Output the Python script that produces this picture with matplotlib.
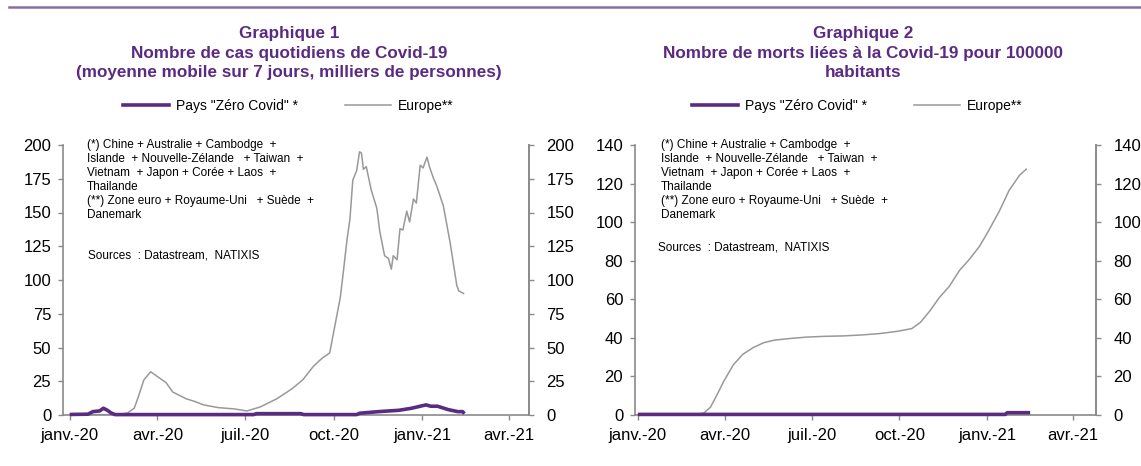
import pandas as pd
import matplotlib
matplotlib.use("Agg")
from matplotlib import pyplot as plt
from matplotlib.lines import Line2D

plt.rcParams['font.family'] = ['Liberation Sans', 'DejaVu Sans']

# --- data ---
# Graphique 1 : cas quotidiens (moyenne mobile 7 j, milliers)
cases_eu_dates = ["2020-01-01", "2020-02-20", "2020-03-01", "2020-03-08", "2020-03-12",
                  "2020-03-18", "2020-03-25", "2020-04-02", "2020-04-10", "2020-04-17",
                  "2020-05-01", "2020-05-10", "2020-05-19", "2020-06-03", "2020-06-20",
                  "2020-07-03", "2020-07-17", "2020-08-03", "2020-08-18", "2020-08-30",
                  "2020-09-10", "2020-09-19", "2020-09-27", "2020-10-01", "2020-10-08",
                  "2020-10-11", "2020-10-15", "2020-10-18", "2020-10-21", "2020-10-25",
                  "2020-10-28", "2020-10-30", "2020-11-01", "2020-11-04", "2020-11-09",
                  "2020-11-15", "2020-11-18", "2020-11-23", "2020-11-27", "2020-11-30",
                  "2020-12-02", "2020-12-06", "2020-12-09", "2020-12-12", "2020-12-16",
                  "2020-12-19", "2020-12-23", "2020-12-26", "2020-12-30", "2021-01-02",
                  "2021-01-06", "2021-01-09", "2021-01-13", "2021-01-16", "2021-01-23",
                  "2021-01-30", "2021-02-06", "2021-02-08", "2021-02-13"]
cases_eu = [0.2, 0.3, 1.5, 5, 13,
            26, 32, 28, 24, 17,
            12, 10, 7.5, 5.5, 4.5,
            3, 6, 12, 19, 26,
            36, 42, 46, 61, 87,
            105, 130, 145, 174, 181,
            195, 194, 182, 184, 167,
            153, 136, 118, 116, 108,
            118, 115, 138, 137, 151,
            143, 160, 157, 185, 183,
            191, 183, 175, 170, 155,
            128, 96, 92, 90]

cases_zc_dates = ["2020-01-01", "2020-01-20", "2020-01-25", "2020-02-01", "2020-02-05",
                  "2020-02-09", "2020-02-13", "2020-02-17", "2020-07-10", "2020-07-13",
                  "2020-08-28", "2020-08-31", "2020-10-25", "2020-10-28", "2020-11-17",
                  "2020-12-08", "2020-12-21", "2021-01-05", "2021-01-10", "2021-01-17",
                  "2021-01-28", "2021-02-07", "2021-02-12", "2021-02-14"]
cases_zc = [0.4, 0.6, 2.5, 3, 5,
            3.5, 1.5, 0.3, 0.3, 1,
            1, 0.3, 0.3, 1.3, 2.5,
            3.5, 5, 7.5, 6.5, 6.5,
            4, 2.5, 2.5, 1]

# Graphique 2 : morts pour 100 000 habitants (cumul)
deaths_eu_dates = ["2020-01-01", "2020-03-03", "2020-03-10", "2020-03-17", "2020-03-24",
                   "2020-03-31", "2020-04-10", "2020-04-20", "2020-05-01", "2020-05-12",
                   "2020-05-23", "2020-06-07", "2020-06-26", "2020-07-15", "2020-08-03",
                   "2020-08-22", "2020-09-10", "2020-09-29", "2020-10-14", "2020-10-23",
                   "2020-11-02", "2020-11-12", "2020-11-22", "2020-12-03", "2020-12-13",
                   "2020-12-24", "2021-01-03", "2021-01-14", "2021-01-24", "2021-02-04",
                   "2021-02-11"]
deaths_eu = [0.1, 0.3, 1, 4, 10.5,
             17.5, 26, 31.5, 35, 37.5,
             38.8, 39.6, 40.4, 40.8, 41,
             41.5, 42.2, 43.4, 44.8, 48,
             54, 61, 66.5, 75, 80.5,
             87.5, 96, 106, 116.5, 124.4,
             127.5]

deaths_zc_dates = ["2020-01-01", "2021-01-20", "2021-01-22", "2021-02-15"]
deaths_zc = [0.3, 0.3, 1.2, 1.2]

x_ticks = ["2020-01-01", "2020-04-01", "2020-07-01", "2020-10-01", "2021-01-01", "2021-04-01"]
x_tick_labels = ["janv.-20", "avr.-20", "juil.-20", "oct.-20", "janv.-21", "avr.-21"]

purple = "#5b2a82"
grey = "#999999"
spine_col = "#8a8a8a"
title_col = "#5b2a82"

notes = ("(*) Chine + Australie + Cambodge  +\n"
         "Islande  + Nouvelle-Zélande   + Taiwan  +\n"
         "Vietnam  + Japon + Corée + Laos  +\n"
         "Thailande\n"
         "(**) Zone euro + Royaume-Uni   + Suède  +\n"
         "Danemark")
sources = "Sources  : Datastream,  NATIXIS"

fig = plt.figure(figsize=(11.41, 4.66), dpi=100)

# top rule
fig.add_artist(Line2D([9 / 1141, 1.0], [1 - 7 / 466, 1 - 7 / 466], color="#8c6aa6", lw=1.8))


def panel(rect, zc_d, zc_v, eu_d, eu_v, ymax, ystep, xlim, title, title_x, leg_x, note_xy, src_xy):
    ax = fig.add_axes(rect)
    ax.plot(pd.to_datetime(eu_d), eu_v, color=grey, lw=1.1, zorder=2)
    ax.plot(pd.to_datetime(zc_d), zc_v, color=purple, lw=2.6, zorder=3, clip_on=False,
            solid_capstyle='butt')
    ax.set_xlim(pd.to_datetime(xlim[0]), pd.to_datetime(xlim[1]))
    ax.set_ylim(0, ymax)
    yt = list(range(0, ymax + 1, ystep))
    ax.set_yticks(yt)
    ax.set_xticks(pd.to_datetime(x_ticks))
    ax.set_xticklabels(x_tick_labels)
    ax.spines['top'].set_visible(False)
    for s in ['left', 'right', 'bottom']:
        ax.spines[s].set_color(spine_col)
        ax.spines[s].set_linewidth(1.2)
    ax.tick_params(axis='both', colors=spine_col, labelcolor='black', labelsize=12,
                   length=3.5, width=1.0, direction='out')
    ax.tick_params(axis='y', pad=5)
    ax.tick_params(axis='x', pad=6)
    ax2 = ax.twinx()
    ax2.set_ylim(0, ymax)
    ax2.set_yticks(yt)
    for s in ['top', 'left', 'bottom']:
        ax2.spines[s].set_visible(False)
    ax2.spines['right'].set_color(spine_col)
    ax2.spines['right'].set_linewidth(1.2)
    ax2.tick_params(axis='y', colors=spine_col, labelcolor='black', labelsize=12,
                    length=3.5, width=1.0, pad=9)

    fig.text(title_x, 1 - 26 / 466, title, ha='center', va='top', fontsize=12.3,
             fontweight='bold', color=title_col, linespacing=1.38)

    handles = [Line2D([], [], color=purple, lw=2.6), Line2D([], [], color=grey, lw=1.1)]
    fig.legend(handles, ['Pays "Zéro Covid" *', 'Europe**'], ncol=2, frameon=False,
               loc='center', bbox_to_anchor=(leg_x, 1 - 106 / 466), fontsize=10,
               handlelength=3.3, handletextpad=0.5, columnspacing=3.4)

    fig.text(note_xy[0], note_xy[1], notes, ha='left', va='top', fontsize=8.5, linespacing=1.22)
    fig.text(src_xy[0], src_xy[1], sources, ha='left', va='center', fontsize=8.5)
    return ax


H = 466.0
W = 1141.0
bottom = 1 - 415 / H
height = (415 - 145) / H

panel([63 / W, bottom, (529 - 63) / W, height], cases_zc_dates, cases_zc,
      cases_eu_dates, cases_eu, 200, 25, ("2019-12-25", "2021-04-22"),
      "Graphique 1\nNombre de cas quotidiens de Covid-19\n"
      "(moyenne mobile sur 7 jours, milliers de personnes)",
      289 / W, 288 / W, (87 / W, 1 - 139 / H), (88 / W, 1 - 256 / H))

panel([635 / W, bottom, (1096 - 635) / W, height], deaths_zc_dates, deaths_zc,
      deaths_eu_dates, deaths_eu, 140, 20, ("2019-12-29", "2021-04-25"),
      "Graphique 2\nNombre de morts liées à la Covid-19 pour 100000\nhabitants",
      863 / W, 857 / W, (661 / W, 1 - 139 / H), (658 / W, 1 - 248 / H))

fig.savefig("out.png", dpi=100)
